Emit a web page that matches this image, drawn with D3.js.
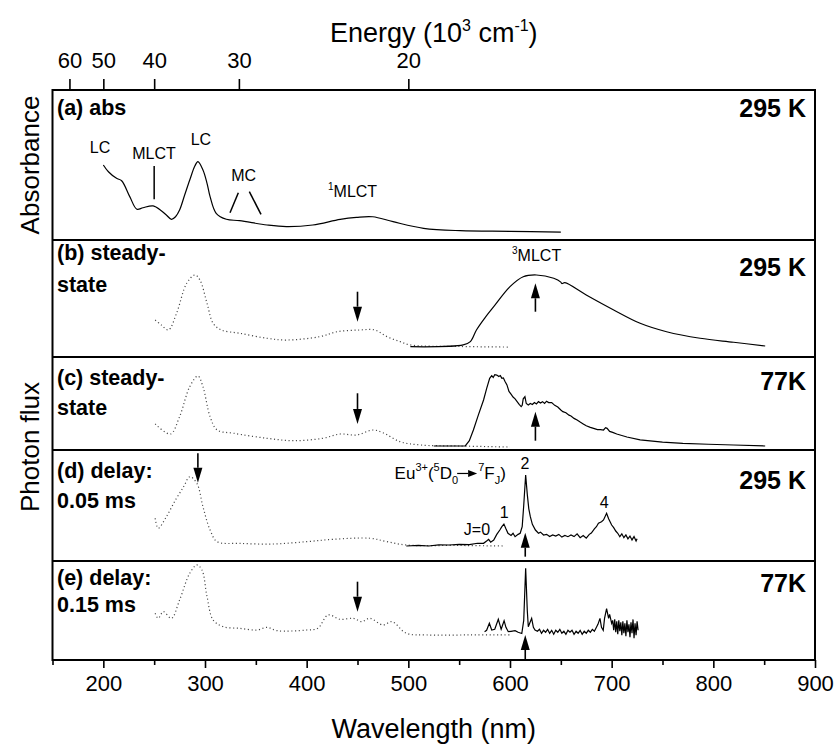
<!DOCTYPE html>
<html>
<head>
<meta charset="utf-8">
<script src="https://cdn.jsdelivr.net/npm/d3@7"></script>
<style>
  body { margin: 0; background: #fff; }
  text { font-family: Arial, "Liberation Sans", sans-serif; fill: #000; }
</style>
</head>
<body>
<svg id="chart" width="837" height="747"></svg>
<script>
// ---- data (wavelength nm, relative intensity) ----
const wavelengthMajor = [200, 300, 400, 500, 600, 700, 800, 900];
const wavelengthMinor = [150, 250, 350, 450, 550, 650, 750, 850];
const energyTicks = [60, 50, 40, 30, 20]; // 10^3 cm-1

const absA = [[200,0.500],[205,0.455],[213,0.411],[218,0.395],[226,0.289],[233,0.205],[239,0.215],[249,0.227],
  [257,0.195],[262,0.167],[267,0.138],[271,0.155],[275,0.200],[280,0.300],[285,0.400],[290,0.493],[293,0.522],
  [298,0.467],[302,0.378],[305,0.289],[311,0.178],[321,0.138],[334,0.129],[361,0.100],[380,0.089],[406,0.100],
  [433,0.138],[449,0.151],[465,0.155],[485,0.122],[515,0.078],[551,0.062],[600,0.058],[650,0.053]];

const excB = [[251,0.316],[257,0.274],[264,0.231],[272,0.373],[282,0.630],[290,0.701],[295,0.658],[302,0.459],
  [308,0.288],[316,0.231],[334,0.203],[361,0.160],[380,0.145],[413,0.174],[430,0.216],[452,0.231],[467,0.231],
  [479,0.174],[492,0.131],[502,0.103],[550,0.090],[600,0.085]];
const emB = [[502,0.088],[554,0.103],[561,0.131],[567,0.231],[575,0.331],[584,0.430],[600,0.601],[613,0.686],
  [626,0.701],[643,0.673],[650,0.640],[651,0.628],[654,0.635],[675,0.530],[702,0.402],[728,0.288],[754,0.216],
  [787,0.160],[820,0.126],[851,0.094]];

const excC = [[251,0.280],[266,0.172],[275,0.358],[285,0.681],[293,0.796],[298,0.681],[305,0.358],[312,0.215],
  [328,0.180],[361,0.126],[387,0.100],[416,0.126],[433,0.172],[449,0.161],[465,0.215],[475,0.186],[492,0.089],
  [512,0.054],[550,0.043],[600,0.032]];
const emC = [[525,0.043],[540,0.043],[556,0.045],[560,0.10],[564,0.215],[569,0.38],[574,0.538],[577,0.66],
  [580,0.771],[582,0.80],[583.5,0.78],[585,0.81],[587,0.806],[589,0.79],[590.5,0.80],[592,0.77],[593.5,0.775],
  [595,0.74],[597,0.70],[599,0.63],[601,0.60],[603,0.57],[605,0.55],[607,0.52],[609,0.49],[611,0.466],[612,0.48],
  [613,0.55],[614.7,0.573],[616,0.50],[618,0.484],[620,0.50],[622,0.49],[624,0.51],[626,0.495],[628,0.52],
  [630,0.505],[632,0.52],[634,0.50],[636,0.525],[638,0.51],[641,0.509],[644,0.48],[647,0.462],[650,0.43],
  [652,0.412],[655,0.40],[658,0.375],[660,0.366],[663,0.34],[666,0.323],[669,0.30],[672,0.28],[675,0.26],
  [679,0.244],[683,0.23],[686,0.22],[689,0.22],[692,0.215],[694,0.24],[695.5,0.233],[698,0.20],[701,0.19],
  [705,0.172],[715,0.14],[728,0.108],[750,0.085],[770,0.072],[795,0.062],[820,0.054],[851,0.043]];

const excD = [[251,0.385],[254,0.295],[262,0.399],[271,0.550],[279,0.669],[285,0.759],[292,0.700],[298,0.489],
  [305,0.279],[312,0.174],[334,0.159],[367,0.153],[400,0.174],[426,0.195],[462,0.205],[479,0.174],[498,0.144],
  [550,0.140],[595,0.135]];
const emD = [[498,0.135],[510,0.14],[520,0.135],[530,0.145],[540,0.144],[550,0.15],[560,0.148],[568,0.16],
  [574,0.159],[577,0.18],[579,0.195],[581,0.17],[584,0.189],[587,0.24],[590,0.279],[592,0.31],[594,0.333],
  [596,0.29],[598,0.25],[601,0.23],[603,0.25],[605,0.219],[608,0.24],[610,0.25],[612,0.31],[613.5,0.50],
  [615.4,0.775],[617,0.60],[618.5,0.47],[620,0.399],[622,0.33],[625,0.279],[628,0.25],[630,0.26],[633,0.234],
  [636,0.24],[639,0.22],[642,0.235],[645,0.225],[648,0.24],[651,0.215],[654,0.23],[657,0.219],[660,0.235],
  [663,0.22],[666,0.245],[669,0.21],[672,0.23],[675,0.205],[678,0.24],[680,0.252],[683,0.29],[685,0.309],
  [687,0.34],[690,0.354],[692,0.37],[695,0.43],[697,0.38],[700,0.324],[702,0.30],[704,0.27],[706,0.25],
  [708,0.219],[710,0.245],[712,0.21],[714,0.235],[716,0.20],[718,0.225],[720,0.19],[722,0.22],[724,0.18],[725,0.20]];

const excE = [[251,0.472],[254,0.421],[259,0.488],[267,0.421],[275,0.606],[285,0.876],[292,0.960],[297,0.909],
  [302,0.639],[308,0.404],[318,0.336],[334,0.320],[351,0.303],[361,0.330],[371,0.296],[400,0.303],[411,0.320],
  [421,0.455],[433,0.411],[446,0.421],[454,0.387],[462,0.421],[475,0.354],[484,0.387],[498,0.270],[518,0.253],
  [560,0.253],[600,0.253]];
const emE = [[575,0.286],[577,0.30],[579.7,0.371],[582,0.303],[585,0.31],[588.5,0.411],[591.3,0.310],[594.2,0.397],
  [596,0.33],[598.3,0.286],[601,0.29],[605,0.296],[608,0.28],[611.6,0.268],[613.5,0.40],[615.4,0.926],[617,0.50],
  [618,0.336],[621.3,0.421],[623,0.33],[624.6,0.303],[627,0.29],[629,0.31],[631,0.27],[633,0.30],[635,0.28],
  [637,0.31],[639,0.27],[641,0.30],[643,0.26],[645,0.30],[647,0.28],[649,0.31],[651,0.27],[653,0.29],[655,0.26],
  [657,0.30],[659,0.28],[661,0.30],[663,0.26],[665,0.29],[667,0.27],[669,0.30],[671,0.26],[673,0.29],[675,0.27],
  [677,0.30],[679,0.28],[681,0.31],[683,0.29],[685,0.33],[686.5,0.36],[688.5,0.42],[690,0.33],[691.7,0.30],
  [693,0.42],[695,0.52],[697,0.42],[698,0.46],[700,0.37],[701,0.40],[702,0.30],[703,0.41],[704,0.28],[705,0.39],
  [706,0.26],[707,0.40],[708,0.29],[709,0.38],[710,0.25],[711,0.39],[712,0.27],[713,0.37],[714,0.24],[715,0.40],
  [716,0.28],[717,0.36],[718,0.23],[719,0.38],[720,0.27],[721,0.41],[722,0.22],[723,0.37],[724,0.25],[725,0.39],[726,0.30]];

const leftLabels = [["(a) abs"], ["(b) steady-", "state"], ["(c) steady-", "state"], ["(d) delay:", "0.05 ms"], ["(e) delay:", "0.15 ms"]];
const tempLabels = ["295 K", "295 K", "77K", "295 K", "77K"];

// arrows: [panel, wavelength, tail value, tip value]
const arrows = [[1,450,0.558,0.302],[1,625,0.387,0.630],[2,450,0.610,0.280],[2,625,0.100,0.412],
  [3,293,0.970,0.705],[3,615,0.039,0.255],[4,450,0.791,0.488],[4,615,0.0,0.253]];

// ---- layout ----
const svg = d3.select("#chart");
const plotLeft = 52.5, plotRight = 815, plotTop = 90, plotBottom = 660;
const x = d3.scaleLinear().domain([150, 900]).range([plotLeft, plotRight]);

// panel boundaries (pixels)
const bounds = [[90,240],[240,357],[357,450],[450,561],[561,660]];
const ys = bounds.map(b => d3.scaleLinear().domain([0, 1]).range([b[1], b[0]]));

const smooth = d3.line().x(d => x(d[0])).curve(d3.curveCatmullRom.alpha(0.5));
const sharp = d3.line().x(d => x(d[0]));

function drawCurve(data, panel, dotted, curveGen) {
  const y = ys[panel];
  svg.append("path")
    .datum(data)
    .attr("fill", "none")
    .attr("stroke", dotted ? "#444" : "#000")
    .attr("stroke-width", dotted ? 1.2 : 1.2)
    .attr("stroke-dasharray", dotted ? "1.1,2.6" : null)
    .attr("d", curveGen.y(d => y(d[1])));
}

drawCurve(absA, 0, false, smooth);
drawCurve(excB, 1, true, smooth);
drawCurve(emB, 1, false, smooth);
drawCurve(excC, 2, true, smooth);
drawCurve(emC, 2, false, sharp);
drawCurve(excD, 3, true, smooth);
drawCurve(emD, 3, false, sharp);
drawCurve(excE, 4, true, smooth);
drawCurve(emE, 4, false, sharp);

// arrows
function arrow(x0, y0, x1, y1, head, half, width) {
  const dx = x1 - x0, dy = y1 - y0, len = Math.hypot(dx, dy);
  const ux = dx / len, uy = dy / len;
  const bx = x1 - ux * head, by = y1 - uy * head;
  svg.append("line")
    .attr("x1", x0).attr("y1", y0).attr("x2", bx).attr("y2", by)
    .attr("stroke", "#000").attr("stroke-width", width);
  svg.append("path")
    .attr("d", `M${x1},${y1} L${bx - uy * half},${by + ux * half} L${bx + uy * half},${by - ux * half} Z`)
    .attr("fill", "#000");
}
arrows.forEach(([p, wl, v0, v1]) => {
  arrow(x(wl), ys[p](v0), x(wl), ys[p](v1), 15, 4.5, 1.6);
});

// frame and panel separators
svg.append("rect")
  .attr("x", plotLeft).attr("y", plotTop)
  .attr("width", plotRight - plotLeft).attr("height", plotBottom - plotTop)
  .attr("fill", "none").attr("stroke", "#000").attr("stroke-width", 2);
bounds.slice(1).forEach(b => {
  svg.append("line")
    .attr("x1", plotLeft).attr("x2", plotRight)
    .attr("y1", b[0]).attr("y2", b[0])
    .attr("stroke", "#000").attr("stroke-width", 2);
});

// bottom axis
svg.append("g")
  .attr("transform", `translate(0,${plotBottom})`)
  .call(d3.axisBottom(x).tickValues(wavelengthMajor).tickSize(8).tickPadding(7).tickSizeOuter(0));
svg.append("g")
  .attr("transform", `translate(0,${plotBottom})`)
  .call(d3.axisBottom(x).tickValues(wavelengthMinor).tickSize(5).tickFormat("").tickSizeOuter(0));

// top energy axis
svg.append("g")
  .attr("transform", `translate(0,${plotTop})`)
  .call(d3.axisTop(x).tickValues(energyTicks.map(e => 1e4 / e))
    .tickFormat(d => Math.round(1e4 / d)).tickSize(11).tickPadding(11).tickSizeOuter(0));

svg.selectAll(".domain").remove();
svg.selectAll(".tick line").attr("stroke", "#000").attr("stroke-width", 1.6);
svg.selectAll(".tick text")
  .attr("font-size", 22)
  .attr("font-family", "Arial, 'Liberation Sans', sans-serif");

// axis titles
const energyTitle = svg.append("text")
  .attr("x", (plotLeft + plotRight) / 2).attr("y", 42)
  .attr("text-anchor", "middle").attr("font-size", 27);
energyTitle.append("tspan").text("Energy (10");
energyTitle.append("tspan").attr("font-size", 16).attr("dy", -11).text("3");
energyTitle.append("tspan").attr("dy", 11).text(" cm");
energyTitle.append("tspan").attr("font-size", 16).attr("dy", -11).text("-1");
energyTitle.append("tspan").attr("dy", 11).text(")");

svg.append("text")
  .attr("x", (plotLeft + plotRight) / 2).attr("y", 738)
  .attr("text-anchor", "middle").attr("font-size", 27)
  .text("Wavelength (nm)");

svg.append("text")
  .attr("transform", `translate(39,${(bounds[0][0] + bounds[0][1]) / 2}) rotate(-90)`)
  .attr("text-anchor", "middle").attr("font-size", 26)
  .text("Absorbance");
svg.append("text")
  .attr("transform", `translate(39,447) rotate(-90)`)
  .attr("text-anchor", "middle").attr("font-size", 26)
  .text("Photon flux");

// panel labels
const leftBase = [115, 260, 385, 478, 585];
const lineGap = [0, 32, 30, 30, 27];
leftLabels.forEach((lines, i) => {
  lines.forEach((t, j) => {
    svg.append("text")
      .attr("x", 57).attr("y", leftBase[i] + j * lineGap[i])
      .attr("font-size", 21.5).attr("font-weight", "bold")
      .text(t);
  });
});
const tempBase = [117, 276, 390, 489, 592];
tempLabels.forEach((t, i) => {
  svg.append("text")
    .attr("x", 806).attr("y", tempBase[i])
    .attr("text-anchor", "end").attr("font-size", 25).attr("font-weight", "bold")
    .text(t);
});

// annotations
function note(p, wl, v, txt, anchor, size) {
  return svg.append("text")
    .attr("x", x(wl)).attr("y", ys[p](v))
    .attr("text-anchor", anchor || "middle")
    .attr("font-size", size || 16)
    .text(txt);
}
function seg(p, wl0, v0, wl1, v1) {
  svg.append("line")
    .attr("x1", x(wl0)).attr("y1", ys[p](v0))
    .attr("x2", x(wl1)).attr("y2", ys[p](v1))
    .attr("stroke", "#000").attr("stroke-width", 1.5);
}
note(0, 196.7, 0.582, "LC");
note(0, 249.8, 0.538, "MLCT");
seg(0, 250, 0.493, 250, 0.271);
note(0, 296, 0.633, "LC");
note(0, 338, 0.395, "MC");
seg(0, 332.8, 0.315, 324.6, 0.182);
seg(0, 343.6, 0.322, 355.1, 0.171);

const m1 = note(0, 421, 0.285, "", "start");
m1.append("tspan").attr("font-size", 10).attr("dy", -7).text("1");
m1.append("tspan").attr("dy", 7).text("MLCT");

const m3 = note(1, 602, 0.823, "", "start");
m3.append("tspan").attr("font-size", 10).attr("dy", -7).text("3");
m3.append("tspan").attr("dy", 7).text("MLCT");

// Eu3+(5D0 -> 7FJ) label, the arrow is drawn over a blank gap
const eu = note(3, 486.5, 0.739, "", "start", 17);
eu.append("tspan").text("Eu");
eu.append("tspan").attr("font-size", 11).attr("dy", -8).text("3+");
eu.append("tspan").attr("dy", 8).text("(");
eu.append("tspan").attr("font-size", 11).attr("dy", -8).text("5");
eu.append("tspan").attr("dy", 8).text("D");
eu.append("tspan").attr("font-size", 11).attr("dy", 5).text("0");
const gap = eu.append("tspan").attr("dy", -5).attr("font-size", 20).text("\u2002\u2002");
eu.append("tspan").attr("font-size", 11).attr("dy", -8).text("7");
eu.append("tspan").attr("dy", 8).text("F");
eu.append("tspan").attr("font-size", 11).attr("dy", 5).text("J");
eu.append("tspan").attr("dy", -5).text(")");
{
  const node = eu.node();
  const p0 = node.getStartPositionOfChar(8), p1 = node.getEndPositionOfChar(9);
  const ay = ys[3](0.739) - 5.5;
  arrow(p0.x - 1, ay, p1.x - 1, ay, 9, 3.5, 1.2);
}

note(3, 614.7, 0.826, "2");
note(3, 594.4, 0.385, "1");
note(3, 567.5, 0.234, "J=0");
note(3, 692.7, 0.475, "4");
</script>
</body>
</html>
